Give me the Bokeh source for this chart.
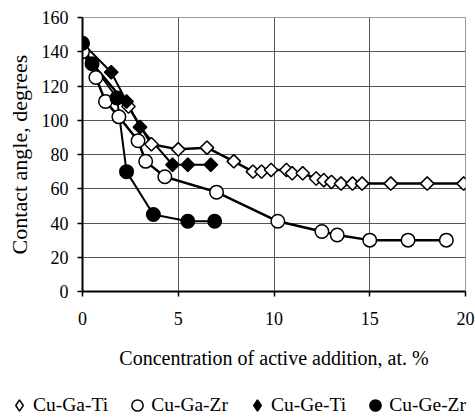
import numpy as np
from bokeh.plotting import figure
from bokeh.layouts import column
from bokeh.models import Legend, LegendItem, FixedTicker, Range1d
from bokeh.embed import file_html
from bokeh.resources import INLINE

# Data
ga_ti_x = [0, 2.4, 3.6, 5.0, 6.5, 7.9, 8.9, 9.35, 9.85, 10.65, 10.95, 11.5, 12.2, 12.6, 13.0, 13.5, 14.1, 14.6, 16.1, 18.0, 19.9]
ga_ti_y = [140, 108, 86, 83, 84, 76, 70, 70, 71, 71, 69, 69, 66, 65, 64, 63, 63, 63, 63, 63, 63]

ga_zr_x = [0, 0.7, 1.2, 1.9, 2.9, 3.3, 4.3, 7.0, 10.2, 12.5, 13.3, 15.0, 17.0, 19.0]
ga_zr_y = [140, 125, 111, 102, 88, 76, 67, 58, 41, 35, 33, 30, 30, 30]

ge_ti_x = [0, 1.5, 2.3, 3.0, 4.7, 5.5, 6.7]
ge_ti_y = [145, 128, 111, 96, 74, 74, 74]

ge_zr_x = [0, 0.5, 1.8, 2.3, 3.7, 5.5, 6.9]
ge_zr_y = [145, 133, 113, 70, 45, 41, 41]

series_names = ["Cu-Ga-Ti", "Cu-Ga-Zr", "Cu-Ge-Ti", "Cu-Ge-Zr"]

x_ticks = [0, 5, 10, 15, 20]
y_ticks = [0, 20, 40, 60, 80, 100, 120, 140, 160]

FONT = "Liberation Serif"

p = figure(width=475, height=380, output_backend="svg", toolbar_location=None,
           x_range=Range1d(0, 20), y_range=Range1d(0, 160),
           min_border_left=82, min_border_right=10, min_border_top=17, min_border_bottom=89)
p.outline_line_color = "#999999"
p.outline_line_width = 1

p.xaxis.ticker = FixedTicker(ticks=x_ticks)
p.yaxis.ticker = FixedTicker(ticks=y_ticks)
p.xaxis.minor_tick_line_color = None
p.yaxis.minor_tick_line_color = None
for ax in (p.xaxis, p.yaxis):
    ax.axis_line_color = "black"
    ax.axis_line_width = 2
    ax.major_tick_line_color = "black"
    ax.major_tick_line_width = 1.5
    ax.major_tick_in = 0
    ax.major_tick_out = 5
    ax.major_label_text_font = FONT
    ax.major_label_text_font_size = "18px"
    ax.major_label_text_color = "black"
    ax.axis_label_text_font = FONT
    ax.axis_label_text_font_style = "normal"
    ax.axis_label_text_color = "black"

p.xaxis.axis_label = "Concentration of active addition, at. %"
p.yaxis.axis_label = "Contact angle, degrees"
p.xaxis.axis_label_text_font_size = "20px"
p.yaxis.axis_label_text_font_size = "22px"
p.xaxis.major_label_standoff = 15
p.xaxis.axis_label_standoff = 19
p.yaxis.major_label_standoff = 9
p.yaxis.axis_label_standoff = 7

p.xgrid.ticker = FixedTicker(ticks=x_ticks)
p.ygrid.ticker = FixedTicker(ticks=y_ticks)
p.xgrid.grid_line_color = "#555555"
p.ygrid.grid_line_color = "#555555"
p.xgrid.grid_line_width = 1
p.ygrid.grid_line_width = 1

LW = 2.5
p.line(ga_ti_x, ga_ti_y, line_color="black", line_width=LW)
p.line(ga_zr_x, ga_zr_y, line_color="black", line_width=LW)
p.line(ge_ti_x, ge_ti_y, line_color="black", line_width=2)
p.line(ge_zr_x, ge_zr_y, line_color="black", line_width=2)

styles = [
    dict(marker="square", angle=np.pi / 4, size=9.5, fill_color="white"),
    dict(marker="circle", size=13.5, fill_color="white"),
    dict(marker="square", angle=np.pi / 4, size=9.5, fill_color="black"),
    dict(marker="circle", size=13.5, fill_color="black"),
]
data = [(ga_ti_x, ga_ti_y), (ga_zr_x, ga_zr_y), (ge_ti_x, ge_ti_y), (ge_zr_x, ge_zr_y)]
for (xs, ys), st in zip(data, styles):
    p.scatter(xs, ys, line_color="black", line_width=1.5, **st)

# Legend in a separate strip below the chart (its frame spans the whole strip)
legend_markers = ["diamond", "circle", "diamond", "circle"]
legend_fills = ["white", "white", "black", "black"]
q = figure(frame_width=475, frame_height=37, output_backend="svg", toolbar_location=None,
           x_range=Range1d(0, 20), y_range=Range1d(0, 1),
           x_axis_type=None, y_axis_type=None, min_border=0,
           min_border_left=0, min_border_right=0, min_border_top=0, min_border_bottom=0)
q.outline_line_color = None
q.xgrid.visible = False
q.ygrid.visible = False
items = []
for name, (xs, ys), mk, fc in zip(series_names, data, legend_markers, legend_fills):
    # same series data; it lies outside this strip's y-range so only the legend shows
    r = q.scatter(xs, ys, marker=mk, size=12, fill_color=fc,
                  line_color="black", line_width=1.5)
    items.append(LegendItem(label=name, renderers=[r]))

legend = Legend(items=items, orientation="horizontal", location=(5, -2))
legend.border_line_color = None
legend.background_fill_alpha = 0
legend.padding = 0
legend.margin = 0
legend.spacing = 15
legend.glyph_width = 28
legend.glyph_height = 28
legend.label_standoff = 0
legend.label_text_font = FONT
legend.label_text_font_size = "19.5px"
legend.label_text_color = "black"
q.add_layout(legend, "center")

open("out.html", "w").write(file_html(column(p, q, spacing=0), INLINE))
